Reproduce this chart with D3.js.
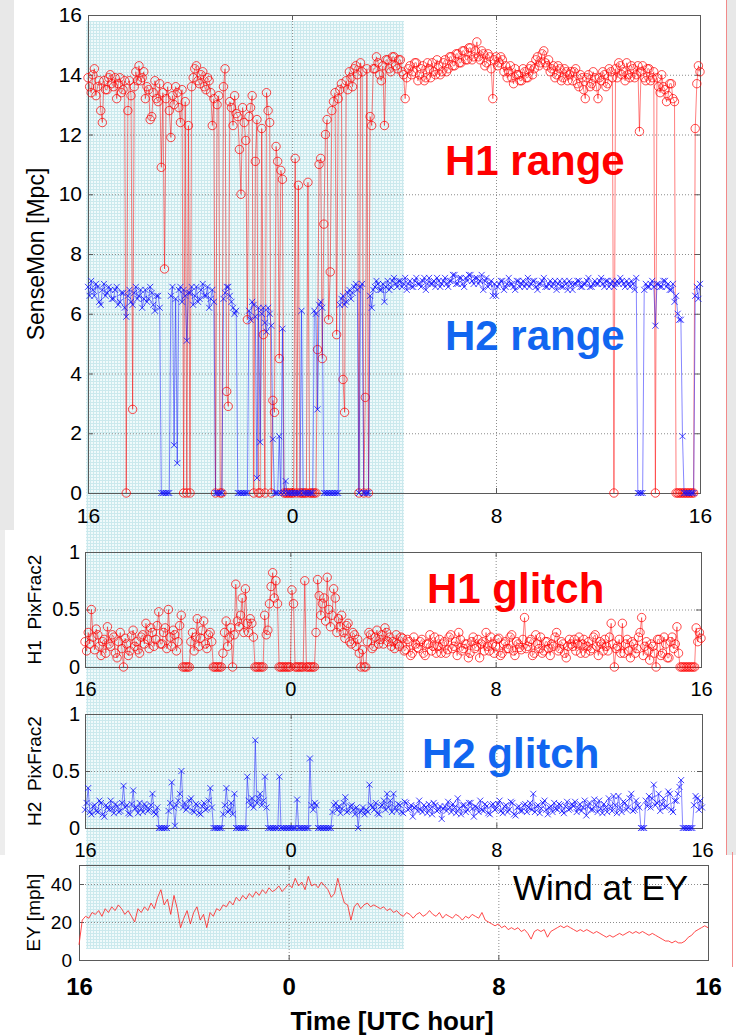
<!DOCTYPE html>
<html>
<head>
<meta charset="utf-8">
<script src="https://cdn.jsdelivr.net/npm/d3@7"></script>
<style>
  body { margin: 0; background: #fff; }
  svg { display: block; }
</style>
</head>
<body>
<svg id="chart" width="736" height="1036"></svg>
<script>
// ---- data: hours run from 16 UTC of the previous day (-8) to 16 UTC (+16) ----
const startHour = -8;
const stepHours = 1 / 16;      // detector channels: one sample every 3.75 min
const windStepHours = 1 / 8;   // wind: one sample every 7.5 min

const xTickValues = [-8, 0, 8, 16];
const xTickLabels = ["16", "0", "8", "16"];
const gridHours = [0, 8];
const rangeTicks = [0, 2, 4, 6, 8, 10, 12, 14, 16];
const glitchTicks = [0, 0.5, 1];
const windTicks = [0, 20, 40];

// SenseMon range [Mpc], one row per hour
const h1Range = [
  13.9, 13.6, 13.4, 14.0, 14.2, 13.3, 13.6, 13.8, 12.8, 12.4, 13.8, 13.5, 13.5, 13.9, 14.0, 13.7,
  13.6, 13.9, 13.2, 13.7, 13.9, 13.4, 13.5, 13.8, 0, 12.8, 13.8, 13.3, 2.8, 13.6, 14.1, 13.8,
  14.3, 13.8, 13.9, 14.1, 13.2, 13.6, 13.5, 12.5, 12.6, 13.4, 13.8, 13.2, 13.1, 13.7, 10.9, 13.4,
  7.5, 13.2, 13.6, 12.8, 11.9, 13.3, 13.0, 13.6, 13.4, 12.9, 12.4, 13.5, 0, 13.1, 0, 12.3,
  0, 13.6, 13.9, 14.2, 14.3, 13.8, 13.7, 14.0, 14.1, 13.6, 13.5, 13.9, 13.8, 13.4, 12.3, 13.2,
  0, 13.0, 13.3, 0, 0, 13.6, 14.2, 3.4, 2.9, 13.1, 12.9, 12.3, 13.3, 12.7, 12.6, 11.5,
  10.0, 12.9, 12.4, 11.8, 5.8, 12.6, 12.9, 13.3, 0, 11.1, 12.5, 0, 0, 12.2, 5.3, 0,
  13.4, 12.8, 12.4, 0, 3.1, 2.7, 11.6, 11.1, 4.5, 10.8, 10.5, 0, 0, 0, 0, 0,
  0, 0, 11.2, 0, 10.3, 0, 0, 0, 0, 0, 10.4, 0, 0, 0, 0, 0,
  4.8, 11.0, 11.2, 4.5, 9.0, 12.0, 12.5, 5.8, 7.4, 12.8, 13.1, 13.4, 5.3, 13.2, 13.5, 13.7,
  3.8, 2.7, 13.8, 13.5, 14.1, 13.9, 13.6, 14.2, 14.3, 14.0, 0, 14.4, 14.1, 0, 3.2, 14.2,
  0, 12.6, 12.3, 14.2, 14.2, 14.6, 14.4, 14.0, 13.8, 14.3, 12.3, 14.5, 14.5, 14.2, 14.1, 14.6,
  14.6, 14.3, 14.2, 14.5, 14.5, 14.1, 14.0, 13.2, 13.9, 14.2, 14.3, 14.0, 14.1, 14.4, 14.4, 13.8,
  14.0, 14.2, 14.3, 13.8, 13.9, 14.4, 14.2, 13.9, 14.4, 14.1, 14.0, 14.5, 14.3, 14.0, 14.1, 14.4,
  14.5, 14.1, 14.2, 14.6, 14.6, 14.3, 14.3, 14.7, 14.7, 14.4, 14.4, 14.8, 14.8, 14.5, 14.5, 14.9,
  14.9, 14.5, 14.6, 14.8, 15.1, 14.6, 14.5, 14.8, 14.7, 14.3, 14.4, 14.7, 14.6, 14.2, 13.2, 14.5,
  14.6, 14.3, 14.4, 14.6, 14.5, 14.1, 14.3, 13.9, 14.1, 14.3, 13.9, 13.7, 14.2, 14.0, 14.0, 13.8,
  13.8, 14.2, 14.1, 13.9, 13.9, 14.2, 14.3, 14.0, 14.2, 14.5, 14.6, 14.3, 14.4, 14.7, 14.8, 14.4,
  14.3, 14.5, 14.1, 14.2, 14.3, 13.9, 14.0, 14.3, 14.2, 13.8, 13.9, 14.2, 14.1, 13.8, 14.0, 14.1,
  13.8, 14.1, 14.2, 13.7, 13.6, 14.0, 13.9, 13.5, 13.2, 13.9, 14.0, 13.6, 13.7, 14.1, 13.9, 13.6,
  13.2, 13.9, 13.8, 14.1, 14.0, 13.6, 13.7, 14.2, 14.1, 13.9, 0, 14.2, 13.9, 14.4, 14.3, 14.0,
  14.1, 13.8, 14.4, 14.0, 13.9, 14.3, 14.2, 13.9, 14.0, 14.3, 12.1, 14.1, 14.3, 13.9, 13.8, 14.2,
  14.2, 13.8, 13.9, 14.1, 0, 13.9, 13.6, 13.4, 14.0, 13.6, 13.5, 13.1, 13.3, 13.7, 13.7, 13.2,
  13.1, 0, 0, 0, 0, 0, 0, 0, 0, 0, 0, 0, 0, 12.2, 13.7, 14.3,
  14.1
];

const h2Range = [
  6.9, 6.6, 7.1, 6.8, 6.6, 7.0, 6.9, 6.4, 6.3, 6.8, 7.0, 6.6, 6.7, 6.9, 6.8, 6.5,
  6.5, 6.8, 6.9, 6.3, 6.4, 6.7, 6.7, 6.2, 5.9, 6.6, 6.8, 6.4, 6.3, 6.7, 6.9, 6.5,
  6.6, 6.8, 6.2, 6.5, 6.8, 6.4, 6.5, 6.9, 6.7, 6.3, 6.1, 6.6, 6.6, 6.2, 0, 0,
  0, 0, 0, 0, 6.6, 6.9, 1.6, 6.5, 1.0, 6.8, 6.9, 6.4, 6.8, 6.6, 5.1, 6.7,
  6.7, 6.9, 6.3, 6.6, 6.9, 6.4, 6.5, 6.8, 7.0, 6.6, 6.6, 6.9, 6.2, 6.5, 6.8, 6.4,
  0, 0, 0, 0, 0, 6.5, 6.7, 6.9, 6.9, 6.6, 6.4, 6.2, 6.0, 6.1, 0, 0,
  0, 0, 0, 0, 0, 6.1, 5.8, 6.4, 6.3, 5.9, 0.5, 6.2, 1.7, 6.0, 6.2, 5.7,
  5.4, 6.2, 6.0, 5.6, 1.8, 0, 0, 0, 1.9, 0, 5.5, 0, 0.4, 0, 0, 0,
  0, 0, 0, 0, 0, 0, 6.1, 0, 0, 0, 0, 0, 0, 0, 6.1, 6.0,
  2.8, 6.3, 6.4, 6.2, 0, 0, 0, 0, 0, 0, 0, 0, 0, 0, 6.3, 6.5,
  6.6, 6.3, 6.4, 6.7, 6.8, 6.5, 6.7, 6.9, 7.0, 6.8, 0, 6.9, 7.0, 0, 0, 0,
  0, 6.6, 6.2, 6.8, 6.9, 7.1, 7.0, 6.8, 6.8, 7.0, 6.4, 6.9, 7.1, 6.8, 6.9, 7.1,
  7.2, 7.0, 6.9, 7.1, 7.1, 6.9, 7.0, 7.2, 6.8, 7.0, 7.1, 6.9, 6.9, 7.1, 7.2, 7.0,
  7.0, 6.9, 7.1, 7.2, 6.8, 7.0, 7.2, 7.0, 7.0, 7.1, 6.9, 7.2, 7.1, 6.9, 7.0, 7.1,
  7.2, 7.0, 6.9, 7.1, 7.1, 7.3, 7.3, 7.0, 7.0, 7.2, 7.2, 7.0, 6.9, 7.2, 7.1, 7.3,
  7.3, 7.1, 7.0, 7.2, 7.2, 7.0, 7.1, 7.3, 6.8, 7.1, 7.2, 6.9, 7.0, 7.1, 6.6, 7.0,
  6.6, 6.9, 7.0, 7.1, 7.1, 6.8, 6.9, 7.0, 7.2, 7.0, 7.0, 6.9, 6.8, 7.1, 7.1, 6.9,
  7.0, 7.1, 6.9, 7.0, 7.2, 6.9, 7.0, 7.1, 7.1, 6.9, 6.8, 7.0, 7.0, 7.1, 7.2, 6.9,
  6.9, 7.0, 7.1, 6.9, 7.0, 7.1, 6.8, 7.0, 7.1, 6.9, 6.9, 7.1, 7.0, 6.8, 7.1, 7.0,
  6.8, 7.0, 7.0, 7.1, 7.1, 6.9, 6.9, 7.0, 7.0, 7.1, 7.2, 6.9, 6.9, 7.0, 7.1, 7.0,
  7.0, 7.1, 7.2, 7.0, 6.9, 7.1, 7.1, 6.9, 7.0, 7.1, 6.9, 7.0, 7.1, 7.0, 7.2, 7.1,
  7.0, 6.9, 7.1, 7.0, 6.9, 7.1, 7.0, 6.8, 7.2, 0, 0, 0, 0, 6.8, 7.0, 6.9,
  6.9, 7.0, 7.1, 6.9, 5.6, 7.0, 7.0, 6.9, 6.9, 7.1, 7.1, 6.9, 7.0, 6.8, 6.8, 7.0,
  6.4, 6.6, 6.0, 5.8, 5.8, 1.9, 0, 0, 0, 0, 0, 0, 0, 6.6, 6.9, 6.5,
  7.0
];

// PixFrac2 glitch fraction, one row per hour
const h1Glitch = [
  0.22, 0.14, 0.30, 0.20, 0.50, 0.26, 0.15, 0.33, 0.28, 0.18, 0.10, 0.22, 0.24, 0.12, 0.35, 0.20,
  0.18, 0.28, 0.26, 0.12, 0.08, 0.22, 0.30, 0.16, 0, 0.25, 0.20, 0.10, 0.14, 0.27, 0.32, 0.18,
  0.22, 0.15, 0.12, 0.26, 0.28, 0.20, 0.38, 0.24, 0.16, 0.34, 0.30, 0.18, 0.24, 0.36, 0.48, 0.20,
  0.20, 0.30, 0.34, 0.16, 0.50, 0.26, 0.18, 0.32, 0.28, 0.14, 0.22, 0.36, 0.45, 0, 0, 0,
  0, 0, 0.22, 0.30, 0.14, 0.26, 0.42, 0.18, 0.25, 0.32, 0.40, 0.20, 0.16, 0.28, 0.30, 0.22,
  0, 0, 0, 0, 0, 0, 0.12, 0.30, 0.40, 0.18, 0.26, 0.34, 0, 0.28, 0.72, 0.40,
  0.35, 0.45, 0.60, 0.30, 0.68, 0.38, 0.30, 0.42, 0.38, 0.26, 0, 0, 0, 0, 0, 0,
  0.45, 0.28, 0.32, 0.55, 0.70, 0.82, 0.60, 0.75, 0.55, 0, 0, 0, 0, 0, 0, 0,
  0, 0.67, 0.55, 0, 0, 0, 0, 0, 0, 0.75, 0, 0, 0, 0, 0, 0,
  0.30, 0.76, 0.62, 0.45, 0.55, 0.60, 0.40, 0.78, 0.50, 0.35, 0.45, 0.68, 0.60, 0.30, 0.42, 0.35,
  0.45, 0.30, 0.25, 0.36, 0.38, 0.22, 0.20, 0.30, 0.28, 0.18, 0.24, 0.12, 0, 0.15, 0, 0,
  0.22, 0.30, 0.28, 0.16, 0.18, 0.26, 0.32, 0.20, 0.24, 0.28, 0.20, 0.34, 0.30, 0.22, 0.26, 0.18,
  0.22, 0.16, 0.28, 0.20, 0.18, 0.26, 0.25, 0.14, 0.15, 0.24, 0.22, 0.10, 0.12, 0.26, 0.20, 0.17,
  0.16, 0.22, 0.24, 0.12, 0.10, 0.20, 0.20, 0.28, 0.14, 0.18, 0.26, 0.12, 0.18, 0.24, 0.12, 0.20,
  0.22, 0.12, 0.15, 0.26, 0.28, 0.16, 0.18, 0.22, 0.10, 0.30, 0.24, 0.14, 0.16, 0.20, 0.20, 0.08,
  0.12, 0.22, 0.26, 0.16, 0.18, 0.24, 0.08, 0.20, 0.22, 0.14, 0.30, 0.18, 0.14, 0.26, 0.20, 0.12,
  0.18, 0.24, 0.25, 0.10, 0.12, 0.20, 0.22, 0.16, 0.16, 0.26, 0.28, 0.14, 0.10, 0.22, 0.20, 0.17,
  0.15, 0.24, 0.43, 0.16, 0.18, 0.22, 0.24, 0.10, 0.12, 0.28, 0.20, 0.16, 0.26, 0.12, 0.14, 0.22,
  0.22, 0.16, 0.10, 0.20, 0.18, 0.26, 0.30, 0.14, 0.16, 0.22, 0.20, 0.12, 0.08, 0.18, 0.24, 0.20,
  0.18, 0.24, 0.14, 0.20, 0.26, 0.12, 0.20, 0.24, 0.12, 0.18, 0.22, 0.14, 0.16, 0.26, 0.28, 0.18,
  0.10, 0.22, 0.20, 0.14, 0.24, 0.18, 0.14, 0.26, 0.38, 0.20, 0, 0.16, 0.18, 0.24, 0.12, 0.38,
  0.12, 0.20, 0.24, 0.14, 0.08, 0.22, 0.20, 0.12, 0.16, 0.26, 0.30, 0.43, 0.10, 0.18, 0.22, 0.14,
  0.06, 0.20, 0.18, 0.12, 0, 0.24, 0.24, 0.10, 0.12, 0.26, 0.20, 0.08, 0.08, 0.22, 0.26, 0.16,
  0.20, 0.35, 0.12, 0, 0, 0, 0, 0, 0, 0, 0, 0, 0, 0.34, 0.22, 0.30,
  0.25
];

const h2Glitch = [
  0.16, 0.22, 0.35, 0.14, 0.12, 0.19, 0.20, 0.15, 0.14, 0.24, 0.22, 0.12, 0.10, 0.20, 0.18, 0.16,
  0.24, 0.17, 0.13, 0.21, 0.19, 0.14, 0.15, 0.22, 0.37, 0.18, 0.20, 0.13, 0.12, 0.21, 0.33, 0.17,
  0.18, 0.13, 0.22, 0.17, 0.14, 0.21, 0.19, 0.15, 0.16, 0.20, 0.30, 0.14, 0.12, 0.18, 0, 0,
  0, 0, 0, 0, 0.15, 0.22, 0.40, 0.18, 0.02, 0.20, 0.24, 0.30, 0.50, 0.18, 0.22, 0.16,
  0.18, 0.24, 0.26, 0.15, 0.14, 0.21, 0.20, 0.13, 0.12, 0.19, 0.22, 0.16, 0.17, 0.24, 0.35, 0.18,
  0, 0, 0, 0, 0, 0, 0.12, 0.20, 0.35, 0.14, 0.16, 0.22, 0.12, 0.30, 0, 0,
  0, 0, 0, 0, 0, 0.45, 0.24, 0.20, 0.26, 0.18, 0.77, 0.22, 0.26, 0.30, 0.20, 0.24,
  0.45, 0.18, 0, 0, 0, 0, 0, 0, 0, 0.45, 0, 0, 0, 0, 0, 0,
  0, 0, 0, 0, 0.25, 0, 0, 0, 0, 0, 0, 0, 0.61, 0.20, 0.16, 0.22,
  0.20, 0, 0, 0, 0, 0, 0, 0, 0, 0, 0.14, 0.20, 0.22, 0.16, 0.19, 0.13,
  0.17, 0.22, 0.27, 0.14, 0.15, 0.19, 0.20, 0.16, 0.12, 0.18, 0, 0.14, 0.15, 0.18, 0.12, 0.16,
  0.14, 0.38, 0.20, 0.18, 0.16, 0.22, 0.13, 0.12, 0.19, 0.20, 0.24, 0.16, 0.30, 0.18, 0.24, 0.14,
  0.30, 0.18, 0.15, 0.21, 0.20, 0.14, 0.13, 0.23, 0.22, 0.16, 0.17, 0.20, 0.10, 0.18, 0.19, 0.15,
  0.24, 0.16, 0.14, 0.20, 0.18, 0.13, 0.21, 0.17, 0.12, 0.22, 0.20, 0.15, 0.16, 0.19, 0.08, 0.17,
  0.19, 0.15, 0.23, 0.18, 0.14, 0.21, 0.18, 0.13, 0.26, 0.17, 0.12, 0.20, 0.20, 0.14, 0.16, 0.22,
  0.22, 0.17, 0.10, 0.19, 0.18, 0.14, 0.24, 0.16, 0.15, 0.21, 0.19, 0.13, 0.12, 0.20, 0.21, 0.16,
  0.17, 0.21, 0.24, 0.15, 0.13, 0.19, 0.20, 0.14, 0.16, 0.23, 0.22, 0.12, 0.11, 0.18, 0.19, 0.15,
  0.15, 0.20, 0.21, 0.14, 0.18, 0.22, 0.16, 0.30, 0.14, 0.19, 0.20, 0.13, 0.17, 0.22, 0.24, 0.16,
  0.12, 0.18, 0.19, 0.14, 0.22, 0.17, 0.16, 0.21, 0.20, 0.15, 0.13, 0.19, 0.23, 0.16, 0.17, 0.21,
  0.19, 0.23, 0.14, 0.17, 0.21, 0.15, 0.18, 0.24, 0.11, 0.19, 0.22, 0.16, 0.16, 0.25, 0.20, 0.14,
  0.24, 0.17, 0.13, 0.21, 0.18, 0.14, 0.26, 0.19, 0.15, 0.28, 0.20, 0.13, 0.28, 0.18, 0.14, 0.23,
  0.22, 0.16, 0.18, 0.26, 0.30, 0.15, 0.16, 0.24, 0.20, 0.18, 0, 0, 0, 0.24, 0.19, 0.28,
  0.18, 0.26, 0.38, 0.20, 0.22, 0.30, 0.15, 0.21, 0.26, 0.18, 0.19, 0.32, 0.30, 0.16, 0.14, 0.24,
  0.24, 0.30, 0.36, 0.42, 0, 0, 0, 0, 0, 0, 0, 0.20, 0.28, 0.26, 0.16, 0.24,
  0.18
];

// wind speed at end station Y [mph], one row per hour
const windEY = [
  8, 21, 23, 22, 25, 24, 26, 23,
  27, 25, 28, 26, 29, 27, 24, 26,
  23, 20, 27, 25, 28, 26, 30, 27,
  33, 37, 29, 32, 24, 34, 27, 17,
  22, 26, 19, 25, 28, 21, 24, 17,
  25, 23, 27, 26, 29, 28, 31, 29,
  33, 31, 34, 32, 35, 33, 36, 34,
  37, 35, 38, 36, 37, 39, 36, 38,
  40, 38, 43, 39, 41, 37, 44, 39,
  40, 38, 41, 39, 37, 33, 35, 43,
  36, 30, 29, 21, 28, 30, 27, 29,
  30, 28, 29, 28, 27, 28, 26, 27,
  25, 26, 24, 23, 25, 24, 22, 24,
  25, 23, 24, 26, 24, 23, 25, 22,
  24, 23, 22, 24, 23, 21, 23, 22,
  24, 23, 22, 25, 21, 20, 19, 18,
  19, 17, 18, 16, 17, 16, 17, 15,
  16, 14, 11, 15, 16, 15, 16, 12,
  15, 16, 17, 18, 17, 18, 17, 16,
  15, 16, 15, 16, 15, 14, 15, 14,
  13, 12, 13, 12, 13, 14, 13, 14,
  15, 14, 15, 14, 15, 14, 13, 14,
  13, 12, 11, 10, 10, 9, 10, 9,
  9, 10, 12, 13, 15, 16, 17, 18,
  17
];

// sample times in hours relative to 0 UTC
const hours = h1Range.map((d, i) => startHour + i * stepHours);
const windHours = windEY.map((d, i) => startHour + i * windStepHours);

// ---- layout ----
const font = '"Liberation Sans", Arial, Helvetica, sans-serif';
const red = "#ff0000";
const blue = "#1010ff";
const svg = d3.select("#chart").attr("font-family", font);

const panels = {
  range:   { left: 88, right: 700, top: 15,  bottom: 493, ymax: 16, yticks: rangeTicks,  tickFont: 21, xPad: 15, yPad: 6, label: "SenseMon [Mpc]", labelFont: 23, labelX: 44 },
  glitch1: { left: 85, right: 701, top: 552, bottom: 667, ymax: 1,  yticks: glitchTicks, tickFont: 20, xPad: 15, yPad: 5, label: "H1  PixFrac2", labelFont: 19, labelX: 41 },
  glitch2: { left: 85, right: 702, top: 714, bottom: 828, ymax: 1,  yticks: glitchTicks, tickFont: 20, xPad: 15, yPad: 5, label: "H2  PixFrac2", labelFont: 19, labelX: 41 },
  wind:    { left: 79, right: 708, top: 865, bottom: 960, ymax: 50, yticks: windTicks,   tickFont: 19, xPad: 18, yPad: 7, label: "EY [mph]", labelFont: 19, labelX: 40, boldX: 24 }
};

// ---- page background pieces ----
svg.append("rect").attr("x", 0).attr("y", 0).attr("width", 14).attr("height", 530).attr("fill", "#e8e8e8");
svg.append("rect").attr("x", 0).attr("y", 530).attr("width", 5).attr("height", 325).attr("fill", "#ededed");
svg.append("rect").attr("x", 727).attr("y", 0).attr("width", 9).attr("height", 855).attr("fill", "#e8e8e8");
svg.append("line").attr("x1", 726.5).attr("x2", 726.5).attr("y1", 0).attr("y2", 855).attr("stroke", "#f28a8a");
svg.append("line").attr("x1", 732.5).attr("x2", 732.5).attr("y1", 852).attr("y2", 967).attr("stroke", "#f28a8a");

// shaded (light cyan, fine grid) time span
const defs = svg.append("defs");
const pat = defs.append("pattern").attr("id", "dots")
  .attr("width", 3).attr("height", 3).attr("patternUnits", "userSpaceOnUse");
pat.append("rect").attr("width", 3).attr("height", 3).attr("fill", "#f0fafb");
pat.append("rect").attr("width", 1).attr("height", 3).attr("fill", "#cbe9ed");
pat.append("rect").attr("width", 3).attr("height", 1).attr("fill", "#cbe9ed");
svg.append("rect").attr("x", 86).attr("y", 21).attr("width", 318).attr("height", 928).attr("fill", "url(#dots)");

// ---- frames ----
function frame(p) {
  const x = d3.scaleLinear().domain([startHour, 16]).range([p.left, p.right]);
  const y = d3.scaleLinear().domain([0, p.ymax]).range([p.bottom, p.top]);
  const g = svg.append("g");

  // dotted grid
  g.selectAll(".gy").data(p.yticks.filter(v => v > 0 && v < p.ymax)).join("line")
    .attr("x1", p.left).attr("x2", p.right)
    .attr("y1", d => y(d) + 0.5).attr("y2", d => y(d) + 0.5)
    .attr("stroke", "#8c8c8c").attr("stroke-dasharray", "1,2");
  g.selectAll(".gx").data(gridHours).join("line")
    .attr("x1", d => x(d) + 0.5).attr("x2", d => x(d) + 0.5)
    .attr("y1", p.top).attr("y2", p.bottom)
    .attr("stroke", "#8c8c8c").attr("stroke-dasharray", "1,2");

  // box
  g.append("rect").attr("x", p.left + 0.5).attr("y", p.top + 0.5)
    .attr("width", p.right - p.left).attr("height", p.bottom - p.top)
    .attr("fill", "none").attr("stroke", "#5a5a5a");

  const xAxis = d3.axisBottom(x).tickValues(xTickValues)
    .tickFormat((d, i) => xTickLabels[i]).tickSizeInner(-5).tickSizeOuter(0).tickPadding(p.xPad);
  const gx = g.append("g").attr("transform", `translate(0,${p.bottom})`).call(xAxis);
  gx.select(".domain").remove();
  gx.attr("font-family", font).attr("font-size", p.boldX || p.tickFont)
    .attr("font-weight", p.boldX ? "bold" : null).attr("color", "#5a5a5a");
  gx.selectAll("text").attr("fill", "#000");

  const yAxis = d3.axisLeft(y).tickValues(p.yticks).tickFormat(d3.format("~g"))
    .tickSizeInner(-5).tickSizeOuter(0).tickPadding(p.yPad);
  const gy = g.append("g").attr("transform", `translate(${p.left},0)`).call(yAxis);
  gy.select(".domain").remove();
  gy.attr("font-family", font).attr("font-size", p.tickFont).attr("color", "#5a5a5a");
  gy.selectAll("text").attr("fill", "#000");

  const gt = g.append("g").attr("transform", `translate(0,${p.top})`)
    .call(d3.axisTop(x).tickValues(xTickValues).tickFormat("").tickSizeInner(-5).tickSizeOuter(0));
  gt.select(".domain").remove();
  gt.attr("color", "#5a5a5a");
  const gr = g.append("g").attr("transform", `translate(${p.right},0)`)
    .call(d3.axisRight(y).tickValues(p.yticks).tickFormat("").tickSizeInner(-5).tickSizeOuter(0));
  gr.select(".domain").remove();
  gr.attr("color", "#5a5a5a");

  g.append("text")
    .attr("transform", `translate(${p.labelX},${(p.top + p.bottom) / 2}) rotate(-90)`)
    .attr("text-anchor", "middle").attr("font-size", p.labelFont).attr("fill", "#000")
    .style("white-space", "pre").text(p.label);

  return { x, y };
}

const sc = {};
Object.keys(panels).forEach(k => { sc[k] = frame(panels[k]); });

// ---- data marks ----
function series(s, values, color, marker) {
  const pts = values.map((v, i) => [hours[i], v]);
  const line = d3.line().x(d => s.x(d[0])).y(d => s.y(d[1]));
  svg.append("path").datum(pts).attr("d", line)
    .attr("fill", "none").attr("stroke", color).attr("stroke-width", 1).attr("stroke-opacity", 0.5);
  const m = svg.append("g");
  if (marker === "o") {
    m.selectAll("circle").data(pts).join("circle")
      .attr("cx", d => s.x(d[0])).attr("cy", d => s.y(d[1])).attr("r", 4.2)
      .attr("fill", "none").attr("stroke", color).attr("stroke-opacity", 0.72);
  } else {
    m.selectAll("path").data(pts).join("path")
      .attr("transform", d => `translate(${s.x(d[0])},${s.y(d[1])})`)
      .attr("d", "M-3,-3L3,3M-3,3L3,-3")
      .attr("fill", "none").attr("stroke", color).attr("stroke-opacity", 0.8);
  }
}

series(sc.range, h1Range, red, "o");
series(sc.range, h2Range, blue, "x");
series(sc.glitch1, h1Glitch, red, "o");
series(sc.glitch2, h2Glitch, blue, "x");

const windLine = d3.line().x((d, i) => sc.wind.x(windHours[i])).y(d => sc.wind.y(d));
svg.append("path").datum(windEY).attr("d", windLine)
  .attr("fill", "none").attr("stroke", "#ff2a2a").attr("stroke-width", 1).attr("stroke-opacity", 0.85);

// ---- annotations ----
const notes = [
  { text: "H1 range",  x: 445, y: 175, size: 42, weight: "bold", fill: "#ff0000" },
  { text: "H2 range",  x: 445, y: 350, size: 42, weight: "bold", fill: "#1166f0" },
  { text: "H1 glitch", x: 427, y: 603, size: 42, weight: "bold", fill: "#ff0000" },
  { text: "H2 glitch", x: 422, y: 768, size: 42, weight: "bold", fill: "#1166f0" },
  { text: "Wind at EY", x: 513, y: 900, size: 35, weight: "normal", fill: "#000" }
];
svg.selectAll(".note").data(notes).join("text")
  .attr("x", d => d.x).attr("y", d => d.y)
  .attr("font-size", d => d.size).attr("font-weight", d => d.weight)
  .attr("fill", d => d.fill).text(d => d.text);

svg.append("text").attr("x", 392).attr("y", 1030).attr("text-anchor", "middle")
  .attr("font-size", 26).attr("font-weight", "bold").attr("fill", "#000")
  .text("Time [UTC hour]");
</script>
</body>
</html>
